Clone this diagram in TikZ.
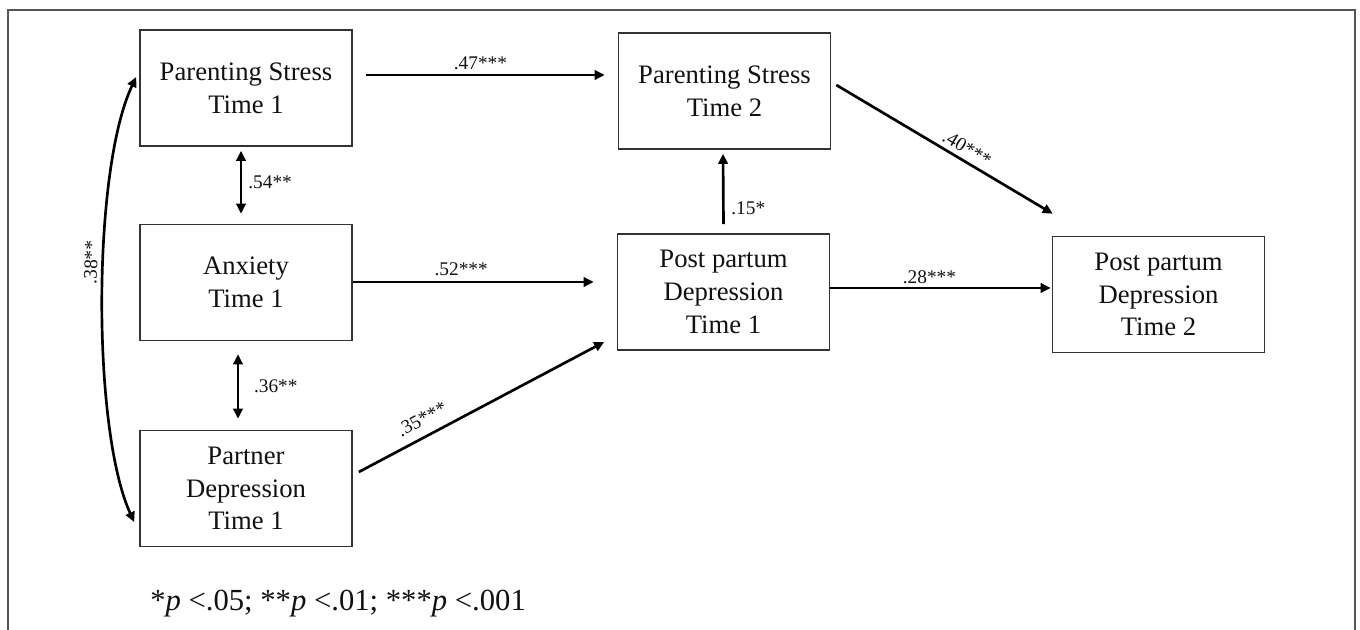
\documentclass[tikz,border=0pt]{standalone}
\usepackage{fontspec}
\setmainfont{Liberation Serif}
\usetikzlibrary{arrows.meta,calc}
\definecolor{boxc}{HTML}{333333}
\definecolor{txtc}{HTML}{111111}
\definecolor{framec}{HTML}{555555}
\begin{document}
\begin{tikzpicture}[x=0.75pt,y=-0.75pt,
  box/.style={draw=boxc, line width=1.2pt, minimum width=159pt, minimum height=87pt,
    align=center, inner sep=0pt, text=txtc, font=\fontsize{20}{24.5}\selectfont},
  arr/.style={line width=2pt, -{Triangle[length=7.5pt,width=7pt]}},
  darr/.style={line width=2pt, {Triangle[length=7.5pt,width=7pt]}-{Triangle[length=7.5pt,width=7pt]}},
  lab/.style={font=\fontsize{14.5}{17}\selectfont, inner sep=0pt, text=txtc}
]
\useasboundingbox (0,0) rectangle (1360,630);
% open frame
\draw[framec, line width=1.1pt] (8,630) -- (8,10) -- (1355,10) -- (1355,630);

% boxes
\node[box] (ps1)  at (246,88)    {Parenting Stress\\Time 1};
\node[box] (anx)  at (246,282.5) {Anxiety\\Time 1};
\node[box] (pd)   at (246,488.5) {Partner\\Depression\\Time 1};
\node[box] (ps2)  at (724.5,91)  {Parenting Stress\\Time 2};
\node[box] (ppd1) at (723.5,292) {Post partum\\Depression\\Time 1};
\node[box] (ppd2) at (1158.5,294.5) {Post partum\\Depression\\Time 2};

% connectors
\draw[arr] ($(ps1.east)+(13,-13)$) -- node[lab, pos=0.48, anchor=base, yshift=3.8pt] {.47***} ($(ps2.west)+(-13,-16)$);
\draw[darr] ($(ps1.south)+(-5,4)$) -- node[lab, anchor=west, xshift=4.5pt] {.54**} ($(anx.north)+(-5,-10)$);
\draw[arr] ($(anx.east)+(0,-0.5)$) -- node[lab, pos=0.45, anchor=base, yshift=5pt] {.52***} ($(ppd1.west)+(-23,-10)$);
\draw[darr] ($(anx.south)+(-8,13)$) -- node[lab, anchor=west, xshift=11pt] {.36**} ($(pd.north)+(-8,-11)$);
\draw[arr] ($(pd.east)+(6,-16.5)$) -- node[lab, pos=0.29, sloped, above=7pt] {.35***} ($(ppd1.west)+(-12.5,50)$);
\draw[arr] ($(ppd1.north)+(0,-9)$) -- node[lab, pos=0.22, anchor=west, xshift=5pt] {.15*} ($(ps2.south)+(-1.5,4)$);
\draw[arr] ($(ps2.east)+(5,-6)$) -- node[lab, pos=0.575, sloped, above=3.5pt] {.40***} ($(ppd2.north west)+(1,-22)$);
\draw[arr] ($(ppd1.east)+(0,-4)$) -- node[lab, pos=0.45, anchor=base, yshift=3.5pt] {.28***} ($(ppd2.west)+(-1,-6.5)$);
\draw[darr] ($(pd.west)+(-5,33.5)$) .. controls (92,430) and (92,170) .. node[lab, pos=0.57, sloped, above=3.5pt] {.38**} ($(ps1.west)+(-3,-11)$);

% footnote
\node[anchor=base west, inner sep=0pt, text=txtc, font=\fontsize{23}{27}\selectfont] (note) at (150,610)
  {*\textit{p} <.05; **\textit{p} <.01; ***\textit{p} <.001};
\end{tikzpicture}
\end{document}
